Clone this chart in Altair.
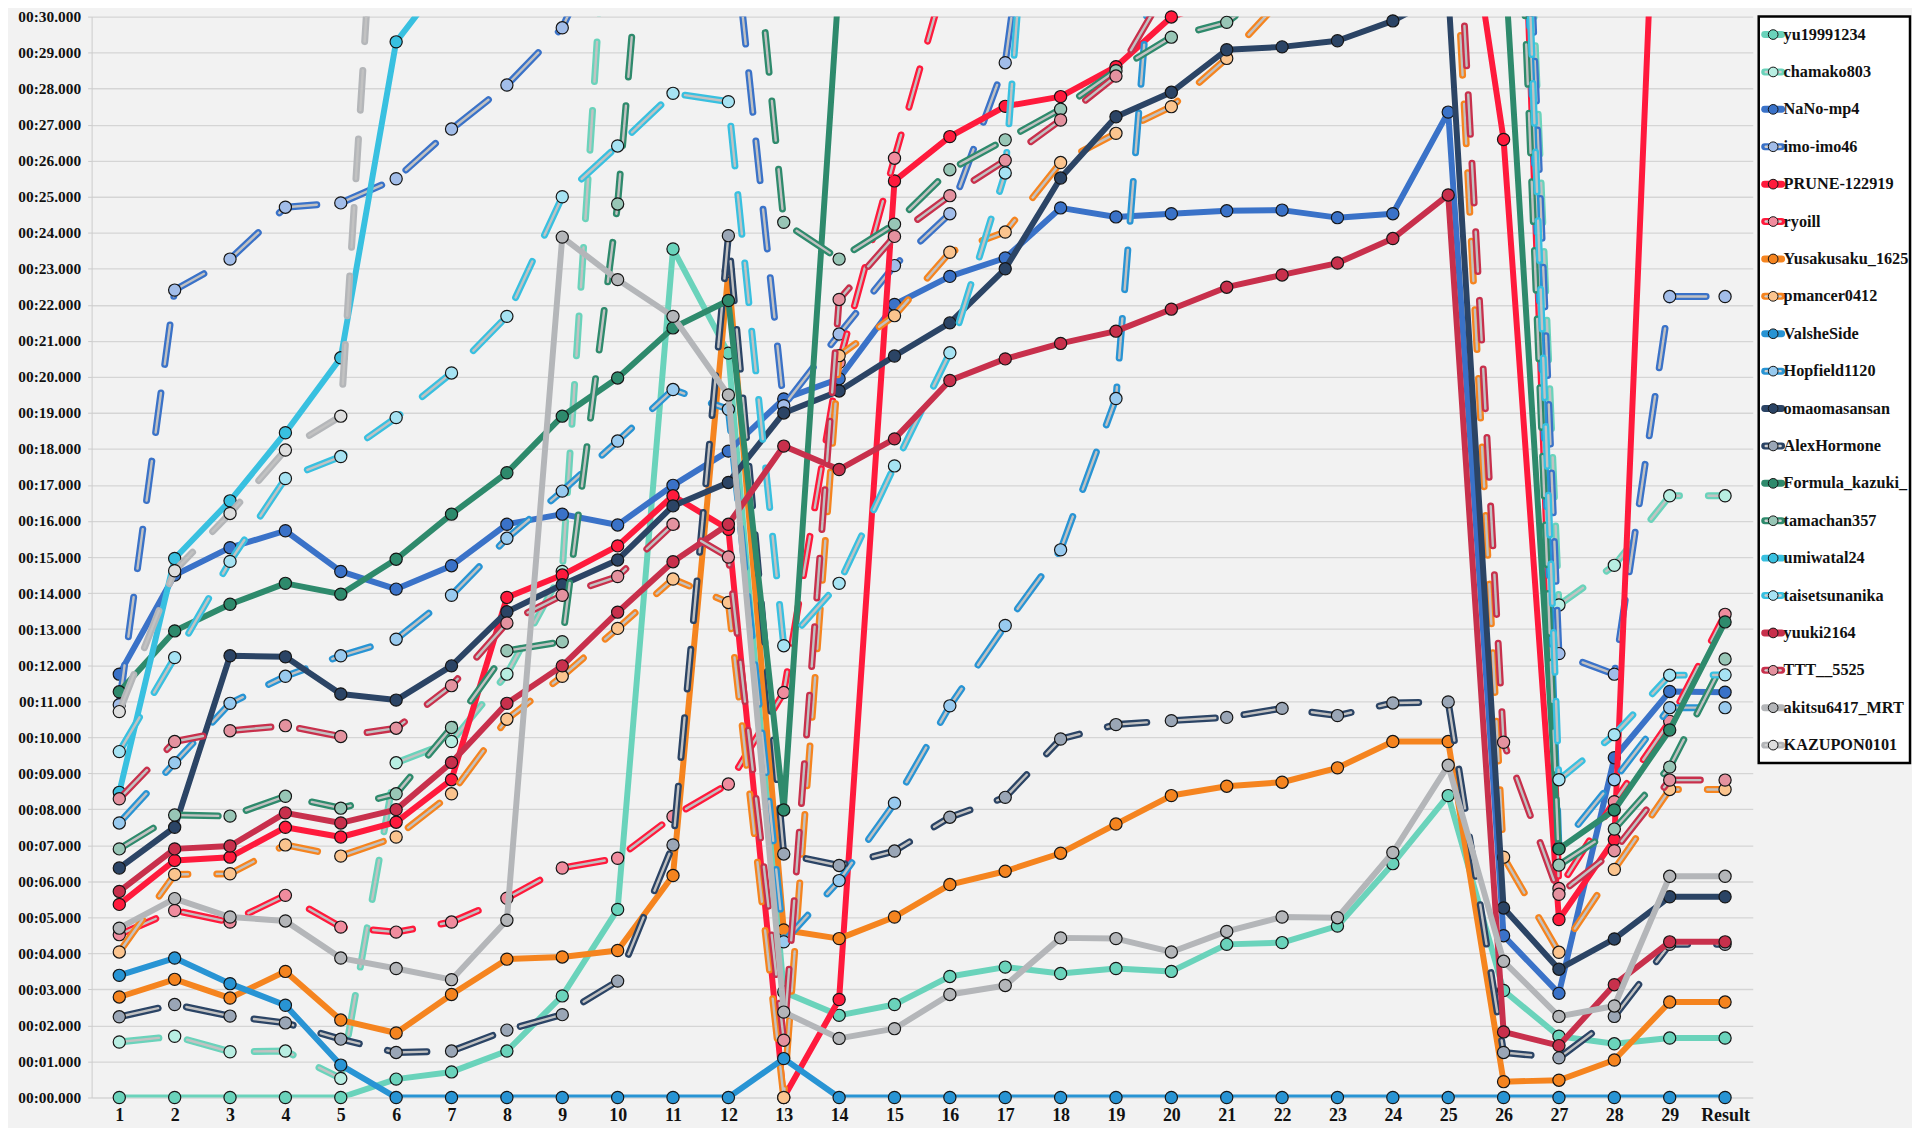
import altair as alt
import pandas as pd

cats = [str(i) for i in range(1, 30)] + ["Result"]

names = ["yu19991234", "chamako803", "NaNo-mp4", "imo-imo46", "PRUNE-122919", "ryoill",
         "Yusakusaku_1625", "pmancer0412", "ValsheSide", "Hopfield1120", "omaomasansan",
         "AlexHormone", "Formula_kazuki_", "tamachan357", "umiwatal24", "taisetsunanika",
         "yuuki2164", "TTT__5525", "akitsu6417_MRT", "KAZUPON0101"]

line_colors = ["#6ad3bb", "#6ad3bb", "#3a72c8", "#3a72c8", "#ff1a3c", "#ff1a3c",
               "#f5841f", "#f5841f", "#2894d4", "#2894d4", "#2b4465", "#2b4465",
               "#2e8a6c", "#2e8a6c", "#38c0e0", "#38c0e0", "#c8304c", "#c8304c",
               "#b4b6b9", "#b4b6b9"]
fill_colors = ["#6ad3bb", "#b8eee2", "#3a72c8", "#a2bde9", "#ff1a3c", "#f08c9e",
               "#f5841f", "#fbc48e", "#2894d4", "#98caef", "#2b4465", "#9aa6b6",
               "#2e8a6c", "#98c6b6", "#38c0e0", "#a6e3f3", "#c8304c", "#e4929f",
               "#b4b6b9", "#dedede"]
dashed = [False, True] * 10

yu = [0, 0, 0, 0, 0, 0.51, 0.71, 1.29, 2.82, 5.22, 23.55, 20.66, 2.93, 2.28, 2.58, 3.36, 3.62, 3.44, 3.58, 3.50, 4.25, 4.30, 4.76, 6.49, 8.38, 2.97, 1.70, 1.49, 1.65, 1.65]
chamako = [1.54, 1.70, 1.27, 1.29, 0.53, 9.29, 9.88, 11.75, 14.6, 38, 40, 40, 40, 40, 40, 40, 40, 40, 40, 40, 40, 40, 40, 40, 40, 50, 13.67, 14.77, 16.70, 16.70]
nano = [11.75, 14.5, 15.26, 15.73, 14.60, 14.11, 14.76, 15.91, 16.19, 15.89, 16.99, 17.94, 19.39, 19.95, 22.01, 22.79, 23.30, 24.69, 24.44, 24.53, 24.61, 24.63, 24.42, 24.53, 27.35, 4.49, 2.89, 9.43, 11.27, 11.25]
imo = [10.9, 22.41, 23.27, 24.71, 24.83, 25.50, 26.88, 28.1, 29.69, 33, 36, 33.8, 19.2, 21.19, 23.09, 24.53, 28.72, 40, 40, 40, 40, 40, 40, 40, 40, 50, 12.32, 11.75, 22.23, 22.23]
prune = [5.36, 6.58, 6.67, 7.50, 7.23, 7.64, 8.82, 13.88, 14.50, 15.31, 16.70, 15.77, 0.0, 2.72, 25.44, 26.67, 27.51, 27.78, 28.61, 29.99, 30.5, 31, 31.5, 32, 36.8, 26.59, 4.94, 7.16, 44, 44]
ryoill = [4.52, 5.19, 4.87, 5.61, 4.73, 4.59, 4.87, 5.53, 6.37, 6.64, 7.80, 8.70, 11.24, 20.4, 26.07, 31.5, 35, 35, 35, 35, 35, 35, 35, 35, 35, 50, 5.8, 8.21, 10.44, 13.41]
yusaku = [2.79, 3.28, 2.76, 3.50, 2.15, 1.79, 2.86, 3.84, 3.90, 4.08, 6.16, 22.93, 4.65, 4.41, 5.01, 5.91, 6.28, 6.78, 7.59, 8.38, 8.64, 8.75, 9.15, 9.88, 9.88, 0.44, 0.48, 1.04, 2.65, 2.65]
pmancer = [4.04, 6.19, 6.21, 7.01, 6.70, 7.23, 8.43, 10.50, 11.69, 13.02, 14.39, 13.74, 0.0, 20.59, 21.70, 23.46, 24.02, 25.95, 26.76, 27.50, 28.84, 30.5, 31.5, 33, 36, 6.67, 4.03, 6.33, 8.55, 8.55]
valshe = [3.39, 3.87, 3.16, 2.56, 0.90, 0, 0, 0, 0, 0, 0, 0, 1.08, 0, 0, 0, 0, 0, 0, 0, 0, 0, 0, 0, 0, 0, 0, 0, 0, 0]
hopfield = [7.62, 9.29, 10.94, 11.69, 12.26, 12.72, 13.94, 15.52, 16.83, 18.22, 19.65, 19.1, 4.32, 6.02, 8.17, 10.87, 13.1, 15.2, 19.4, 38.7, 45, 45, 45, 45, 45, 50, 6.92, 8.82, 10.82, 10.82]
omaoma = [6.37, 7.50, 12.26, 12.23, 11.20, 11.03, 11.98, 13.48, 14.23, 14.92, 16.42, 17.07, 19.0, 19.61, 20.58, 21.50, 23.00, 25.52, 27.22, 27.90, 29.08, 29.16, 29.33, 29.88, 30.7, 5.26, 3.56, 4.40, 5.57, 5.57]
alex = [2.24, 2.58, 2.26, 2.07, 1.62, 1.25, 1.29, 1.87, 2.30, 3.23, 7.01, 23.92, 6.76, 6.44, 6.84, 7.78, 8.33, 9.95, 10.35, 10.46, 10.55, 10.80, 10.60, 10.95, 10.98, 1.25, 1.10, 2.25, 4.25, 4.25]
formula = [11.26, 12.95, 13.69, 14.27, 13.97, 14.94, 16.19, 17.34, 18.91, 19.97, 21.36, 22.12, 7.98, 31, 33, 33, 33, 33, 33, 33, 33, 33, 33, 33, 33, 32, 6.9, 7.98, 10.20, 13.20]
tamachan = [6.90, 7.84, 7.81, 8.36, 8.03, 8.43, 10.27, 12.40, 12.65, 24.80, 43, 40, 24.29, 23.27, 24.24, 25.75, 26.58, 27.43, 28.5, 29.43, 29.84, 31, 33, 33, 33, 45, 6.45, 7.45, 9.17, 12.17]
umiwatal = [8.47, 14.96, 16.56, 18.45, 20.53, 29.30, 31.3, 33, 33, 33, 33, 33, 33, 33, 33, 33, 33, 33, 33, 33, 33, 33, 33, 33, 33, 33, 33, 33, 33, 33]
taisetsu = [9.60, 12.21, 14.88, 17.18, 17.79, 18.87, 20.11, 21.68, 25.0, 26.41, 27.87, 27.64, 12.54, 14.27, 17.53, 20.67, 25.66, 46, 45, 45, 45, 45, 45, 45, 45, 50, 8.82, 10.07, 11.72, 11.73]
yuuki = [5.72, 6.90, 6.98, 7.90, 7.62, 7.99, 9.30, 10.94, 11.98, 13.47, 14.87, 15.91, 18.08, 17.43, 18.28, 19.90, 20.50, 20.93, 21.27, 21.88, 22.49, 22.83, 23.16, 23.84, 25.05, 1.82, 1.44, 3.13, 4.32, 4.32]
ttt = [8.29, 9.88, 10.18, 10.32, 10.02, 10.25, 11.43, 13.17, 13.94, 14.46, 15.91, 15.0, 1.59, 22.15, 23.90, 25.03, 26.01, 27.13, 28.35, 31, 33, 33, 33, 33, 38, 9.86, 5.64, 6.85, 8.81, 8.81]
akitsu = [4.70, 5.52, 5.01, 4.90, 3.87, 3.58, 3.27, 4.92, 23.88, 22.7, 21.68, 19.5, 2.37, 1.64, 1.91, 2.86, 3.11, 4.43, 4.41, 4.04, 4.61, 5.01, 4.99, 6.80, 9.22, 3.78, 2.25, 2.54, 6.14, 6.14]
kazupon = [10.71, 14.62, 16.21, 17.97, 18.91, 43, 45, 45, 45, 45, 45, 45, 45, 45, 45, 45, 45, 45, 45, 45, 45, 45, 45, 45, 45, 45, 45, 45, 45, 45]

series_values = [yu, chamako, nano, imo, prune, ryoill, yusaku, pmancer, valshe, hopfield,
                 omaoma, alex, formula, tamachan, umiwatal, taisetsu, yuuki, ttt, akitsu, kazupon]

rows = []
for s, name in enumerate(names):
    for i, c in enumerate(cats):
        rows.append({"series": name, "cat": c, "idx": i, "v": series_values[s][i]})
df = pd.DataFrame(rows)

FONT = "Liberation Serif"

x_enc = alt.X("cat:O", scale=alt.Scale(type="point", domain=cats, padding=0.5),
              axis=alt.Axis(title=None, labelAngle=0, ticks=False, domain=False, grid=False,
                            labelFontSize=18, labelPadding=9, labelFont=FONT,
                            labelFontWeight="bold", labelColor="#111111"))
y_enc = alt.Y("v:Q", scale=alt.Scale(domain=[0, 30], nice=False, zero=False),
              axis=alt.Axis(title=None, values=list(range(0, 31)),
                            labelExpr="'00:' + format(datum.value, '02d') + '.000'",
                            grid=True, gridColor="#d5d5d5", gridWidth=1.3,
                            domainColor="#cccccc", tickColor="#cccccc", tickSize=4,
                            labelPadding=7, labelFontSize=15.5, labelFont=FONT,
                            labelFontWeight="bold", labelColor="#111111"))

base = alt.Chart(df)
layers = []
for s, name in enumerate(names):
    b = base.transform_filter(alt.datum.series == name)
    if dashed[s]:
        layers.append(b.mark_line(color=line_colors[s], strokeWidth=7, strokeDash=[40, 29],
                                  strokeCap="round", strokeJoin="round", clip=True)
                      .encode(x=x_enc, y=y_enc, order="idx:Q"))
        layers.append(b.mark_line(color="#c2c2c2", strokeWidth=2.4, strokeDash=[40, 29],
                                  strokeCap="round", strokeJoin="round", clip=True)
                      .encode(x=x_enc, y=y_enc, order="idx:Q"))
    else:
        layers.append(b.mark_line(color=line_colors[s], strokeWidth=6, strokeCap="round",
                                  strokeJoin="round", clip=True)
                      .encode(x=x_enc, y=y_enc, order="idx:Q"))
    layers.append(b.transform_filter(alt.datum.v <= 30)
                  .mark_circle(size=150, color=fill_colors[s], opacity=1, stroke="#151515",
                               strokeWidth=1.2)
                  .encode(x=x_enc, y=y_enc))

main = alt.layer(*layers).properties(
    width=1669, height=1086,
    view=alt.ViewBackground(stroke="transparent"))

# Legend panel
leg = pd.DataFrame({"series": names, "lc": line_colors, "fc": fill_colors,
                    "dashed": dashed})
ly = alt.Y("series:N", scale=alt.Scale(type="point", domain=names, padding=0.48), axis=None)
lbase = alt.Chart(leg)
leg_outer = lbase.mark_rule(strokeWidth=7, strokeCap="round").encode(
    y=ly, x=alt.value(6), x2=alt.value(23),
    color=alt.Color("series:N", scale=alt.Scale(domain=names, range=line_colors), legend=None))
leg_inner = lbase.transform_filter(alt.datum.dashed == True).mark_rule(
    strokeWidth=2.4, color="#d0d0d0", strokeCap="round").encode(
    y=ly, x=alt.value(7), x2=alt.value(22))
leg_dot = lbase.mark_circle(size=95, opacity=1, stroke="#151515", strokeWidth=1).encode(
    y=ly, x=alt.value(14.5),
    fill=alt.Fill("series:N", scale=alt.Scale(domain=names, range=fill_colors), legend=None))
leg_text = lbase.mark_text(align="left", baseline="middle", font=FONT, fontSize=16.3,
                           fontWeight="bold", color="#111111").encode(
    y=ly, x=alt.value(25), text="series:N")

legend = alt.layer(leg_outer, leg_inner, leg_dot, leg_text).properties(
    width=152, height=750,
    view=alt.ViewBackground(fill="#ffffff", stroke="#000000", strokeWidth=2.5))

chart = alt.hconcat(main, legend, spacing=3).configure(
    background="#f2f2f2",
    padding={"left": 9, "top": -3, "right": 0, "bottom": 0})

chart.save("out.html", embed_options={"renderer": "svg", "actions": False})
